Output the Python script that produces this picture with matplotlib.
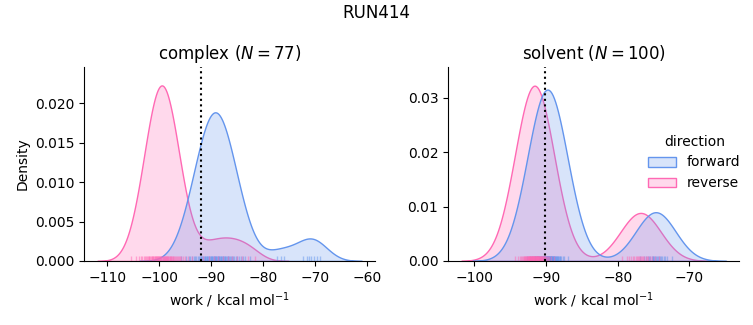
import numpy as np
import pandas as pd
import matplotlib
matplotlib.use("Agg")
import matplotlib.pyplot as plt
import seaborn as sns

# ---- data (work values, kcal/mol) ----
complex_forward = [
    -95.80, -94.80, -94.35, -94.00, -93.69, -93.37, -93.10, -92.85, -92.62, -92.42,
    -92.22, -92.04, -91.87, -91.71, -91.56, -91.40, -91.26, -91.12, -90.98, -90.85,
    -90.72, -90.60, -90.47, -90.35, -90.23, -90.11, -90.00, -89.88, -89.76, -89.65,
    -89.54, -89.43, -89.31, -89.20, -89.09, -88.97, -88.86, -88.75, -88.64, -88.52,
    -88.40, -88.29, -88.17, -88.05, -87.93, -87.80, -87.68, -87.55, -87.42, -87.28,
    -87.14, -87.00, -86.84, -86.69, -86.53, -86.36, -86.18, -85.98, -85.78, -85.55,
    -85.30, -85.03, -84.71, -84.33, -83.95, -83.50, -82.60,
    -77.30, -76.60, -76.00,
    -72.30, -71.60, -71.10, -70.70, -70.20, -69.60, -69.00,
]
complex_reverse = [
    -105.40, -104.52, -103.96, -103.56, -103.24, -102.98, -102.75, -102.54, -102.35, -102.18,
    -102.02, -101.87, -101.73, -101.59, -101.46, -101.34, -101.22, -101.10, -100.99, -100.88,
    -100.77, -100.66, -100.56, -100.46, -100.36, -100.26, -100.16, -100.07, -99.97, -99.88,
    -99.78, -99.69, -99.59, -99.50, -99.31, -99.22, -99.12, -99.03, -98.93,
    -98.84, -98.74, -98.64, -98.54, -98.44, -98.34, -98.23, -98.12, -98.01, -97.90,
    -97.78, -97.66, -97.54, -97.41, -97.27, -97.13, -96.98, -96.82, -96.65, -96.46,
    -96.25, -96.02, -95.76, -95.44, -95.04, -94.48, -93.60,
    -91.60, -90.50, -89.50, -88.60, -87.70, -86.80, -85.90, -85.00, -84.00,
    -82.90, -81.60,
]
solvent_forward = [
    -92.65, -92.17, -91.92, -91.74, -91.60, -91.48, -91.38, -91.30, -91.21, -91.14,
    -91.07, -91.00, -90.94, -90.87, -90.82, -90.77, -90.72, -90.66, -90.62, -90.57,
    -90.52, -90.48, -90.44, -90.40, -90.35, -90.31, -90.28, -90.23, -90.20, -90.15,
    -90.12, -90.08, -90.04, -90.00, -89.97, -89.93, -89.89, -89.85, -89.82,
    -89.78, -89.75, -89.71, -89.67, -89.63, -89.60, -89.56, -89.52, -89.48, -89.45,
    -89.40, -89.37, -89.32, -89.29, -89.25, -89.20, -89.16, -89.12, -89.08, -89.03,
    -88.98, -88.94, -88.88, -88.83, -88.78, -88.73, -88.66, -88.60, -88.53, -88.46,
    -88.39, -88.30, -88.22, -88.12, -88.00, -87.86, -87.68, -87.43, -86.95,
    -76.90, -76.34, -76.03, -75.80, -75.61, -75.44, -75.29, -75.15, -75.02, -74.89,
    -74.76, -74.64, -74.51, -74.38, -74.25, -74.11, -73.96, -73.79, -73.60, -73.37,
    -73.06, -72.50,
]
solvent_reverse = [
    -94.34, -93.88, -93.64, -93.47, -93.33, -93.22, -93.12, -93.04, -92.95, -92.89,
    -92.82, -92.75, -92.69, -92.63, -92.58, -92.53, -92.48, -92.43, -92.39, -92.34,
    -92.29, -92.25, -92.22, -92.18, -92.13, -92.09, -92.06, -92.01, -91.98, -91.94,
    -91.90, -91.87, -91.83, -91.79, -91.76, -91.73, -91.68, -91.65, -91.62,
    -91.58, -91.55, -91.52, -91.47, -91.44, -91.41, -91.37, -91.33, -91.30, -91.26,
    -91.22, -91.19, -91.14, -91.11, -91.07, -91.02, -90.98, -90.95, -90.91, -90.86,
    -90.81, -90.77, -90.72, -90.67, -90.62, -90.57, -90.51, -90.45, -90.38, -90.31,
    -90.25, -90.16, -90.08, -89.98, -89.87, -89.73, -89.56, -89.32, -88.86,
    -79.40, -78.74, -78.37, -78.10, -77.87, -77.68, -77.50, -77.33, -77.18, -77.02,
    -76.87, -76.73, -76.58, -76.42, -76.27, -76.10, -75.92, -75.73, -75.50, -75.23,
    -74.86, -74.20,
]
phases = ["complex", "solvent"]
directions = ["forward", "reverse"]
estimates = [-92.0, -90.2]   # dotted vertical lines
run_name = "RUN414"

rows = []
for ph, fw, rv in [("complex", complex_forward, complex_reverse),
                   ("solvent", solvent_forward, solvent_reverse)]:
    rows += [(ph, "forward", w) for w in fw]
    rows += [(ph, "reverse", w) for w in rv]
df = pd.DataFrame(rows, columns=["phase", "direction", "work"])
n_per_phase = {"complex": len(complex_forward), "solvent": len(solvent_forward)}

palette = {"forward": "cornflowerblue", "reverse": "hotpink"}
g = sns.displot(
    data=df, x="work", hue="direction", col="phase", kind="kde",
    fill=True, rug=True, palette=palette, hue_order=directions,
    col_order=phases, facet_kws=dict(sharex=False, sharey=False),
    rug_kws=dict(alpha=0.5), height=3, aspect=1.2,
)
fig = g.figure
fig.set_size_inches(7.53, 3.25)

axes = g.axes.flatten()
positions = [[0.1116, 0.197, 0.3865, 0.597], [0.595, 0.197, 0.387, 0.597]]
ylims = [0.0246, 0.0357]
for ax, ph, est, pos, yl in zip(axes, phases, estimates, positions, ylims):
    ax.axvline(est, color="black", linestyle=":", linewidth=1.5)
    ax.set_position(pos)
    ax.set_ylim(0, yl)
    ax.set_title(f"{ph} ($N = {n_per_phase[ph]}$)")
    ax.set_xlabel("work / kcal mol$^{-1}$")
axes[0].set_ylabel("Density")
axes[1].set_ylabel("")

sns.move_legend(g, "center", bbox_to_anchor=(0.922, 0.5), frameon=False)
fig.suptitle(run_name, y=0.96, va="center")
fig.savefig("out.png", dpi=100)
